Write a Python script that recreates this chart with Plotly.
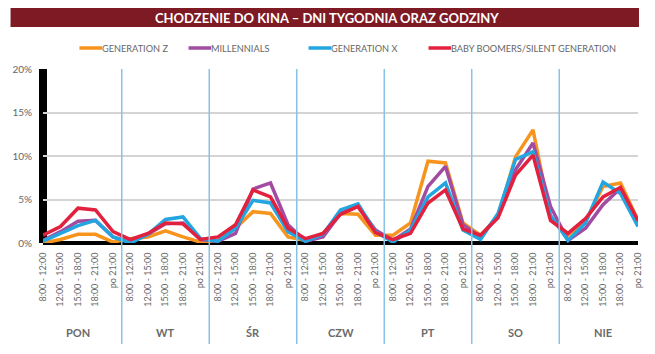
import plotly.graph_objects as go

days = ["PON", "WT", "ŚR", "CZW", "PT", "SO", "NIE"]
slots = ["8:00 - 12:00", "12:00 - 15:00", "15:00 - 18:00", "18:00 - 21:00", "po 21:00"]

gen_z = [0.0, 0.4, 1.0, 1.0, 0.1,
         0.5, 0.7, 1.4, 0.7, 0.1,
         0.3, 1.7, 3.6, 3.4, 0.7,
         0.3, 1.1, 3.4, 3.3, 0.9,
         0.9, 2.3, 9.4, 9.2, 2.3,
         0.9, 3.0, 9.9, 13.0, 3.0,
         0.9, 2.5, 6.5, 6.9, 2.6]
millennials = [0.3, 1.3, 2.5, 2.6, 0.7,
               0.1, 1.0, 2.2, 2.3, 0.4,
               0.2, 1.1, 6.2, 6.9, 2.1,
               0.2, 0.7, 3.4, 4.2, 1.5,
               0.3, 1.6, 6.5, 8.8, 2.1,
               0.7, 3.2, 8.4, 11.5, 4.2,
               0.3, 1.7, 4.4, 6.3, 2.4]
gen_x = [0.2, 1.1, 2.0, 2.6, 0.7,
         0.0, 1.0, 2.7, 3.0, 0.5,
         0.2, 1.7, 4.9, 4.6, 1.3,
         0.2, 1.0, 3.8, 4.5, 1.3,
         0.1, 1.5, 5.3, 6.9, 1.5,
         0.4, 3.4, 9.6, 10.5, 3.2,
         0.3, 2.3, 7.0, 5.7, 1.9]
boomers = [0.9, 1.9, 4.0, 3.8, 1.3,
           0.4, 1.1, 2.3, 2.2, 0.4,
           0.7, 2.1, 6.1, 5.3, 1.7,
           0.5, 1.1, 3.3, 4.2, 1.2,
           0.4, 1.1, 4.6, 6.1, 1.6,
           0.9, 2.9, 7.8, 10.1, 2.6,
           1.1, 2.8, 5.3, 6.4, 2.6]

series = [
    ("GENERATION Z", gen_z, "#F7941D"),
    ("MILLENNIALS", millennials, "#A24BA3"),
    ("GENERATION X", gen_x, "#23A5E0"),
    ("BABY BOOMERS/SILENT GENERATION", boomers, "#E2213F"),
]

W, H = 655, 354
ML, MR, MT, MB = 38, 12, 69, 111
PW, PH = W - ML - MR, H - MT - MB

def px(xp):
    return (xp - ML) / PW

def py(yp):
    return (H - MB - yp) / PH

n = len(days) * len(slots)
xs = list(range(n))
ticktext = [s for _ in days for s in slots]

fig = go.Figure()
for name, vals, col in series:
    fig.add_trace(go.Scatter(x=xs, y=vals, mode="lines", name=name,
                             line=dict(color=col, width=3.5), showlegend=False))

FONT = "Lato"
GREY = "#666666"

shapes = []
# axes lines
shapes.append(dict(type="line", xref="paper", yref="paper", x0=0, x1=0, y0=0, y1=1,
                   line=dict(color="black", width=8), layer="below"))
shapes.append(dict(type="line", xref="paper", yref="paper", x0=0, x1=1, y0=0, y1=0,
                   line=dict(color="black", width=4), layer="below"))
# day dividers
for i in range(1, len(days)):
    xd = (i * len(slots) - 0.5) / (n - 1)
    shapes.append(dict(type="line", xref="paper", yref="paper", x0=xd, x1=xd,
                       y0=py(344), y1=1, line=dict(color="#86C4E6", width=1.5)))
# title bar
shapes.append(dict(type="rect", xref="paper", yref="paper", x0=px(5), x1=px(644),
                   y0=py(27), y1=py(8), fillcolor="#7D1A24", line=dict(width=0),
                   layer="below"))

annotations = [dict(text="<b>CHODZENIE DO KINA – DNI TYGODNIA ORAZ GODZINY</b>",
                    xref="paper", yref="paper", x=px(327), y=py(17.5), showarrow=False,
                    yanchor="middle",
                    font=dict(family=FONT, size=13, color="white"))]

leg_x = [75, 186, 308, 430]
for (name, vals, col), lx in zip(series, leg_x):
    shapes.append(dict(type="line", xref="paper", yref="paper", x0=px(lx), x1=px(lx + 23),
                       y0=py(48), y1=py(48), line=dict(color=col, width=3.5)))
    annotations.append(dict(text=name, xref="paper", yref="paper", x=px(lx + 21), y=py(48.5),
                            xanchor="left", yanchor="middle", showarrow=False,
                            font=dict(family=FONT, size=9.2, color=GREY)))

for i, d in enumerate(days):
    annotations.append(dict(text="<b>" + d + "</b>", x=i * len(slots) + 2, xref="x",
                            yref="paper", y=py(332), showarrow=False, yanchor="middle",
                            font=dict(family=FONT, size=11, color="#6a6a6a")))

fig.update_layout(
    width=W, height=H,
    margin=dict(l=ML, r=MR, t=MT, b=MB),
    plot_bgcolor="white", paper_bgcolor="white",
    shapes=shapes, annotations=annotations,
    xaxis=dict(range=[0, n - 1], tickvals=xs, ticktext=ticktext, tickangle=-90,
               showgrid=False, zeroline=False, ticks="outside", ticklen=5,
               tickcolor="rgba(0,0,0,0)", tickfont=dict(family=FONT, size=9, color=GREY)),
    yaxis=dict(range=[0, 20], tickvals=[0, 5, 10, 15, 20],
               ticktext=["0%", "5%", "10%", "15%", "20%"],
               showgrid=True, gridcolor="#d4d4d4", gridwidth=1.5, zeroline=False,
               ticks="outside", ticklen=8, tickcolor="rgba(0,0,0,0)",
               tickfont=dict(family=FONT, size=10, color=GREY)),
)

fig.write_html("out.html")
